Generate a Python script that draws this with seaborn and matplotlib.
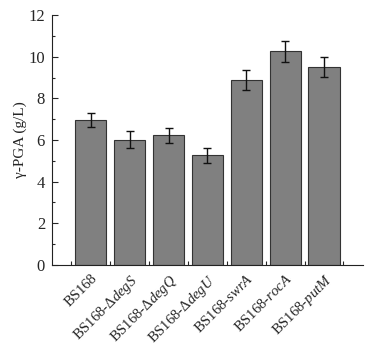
import matplotlib
matplotlib.use("Agg")
import matplotlib.pyplot as plt
import seaborn as sns
import pandas as pd
import numpy as np
from matplotlib.ticker import MultipleLocator, FixedLocator

strains = ["BS168", "BS168-ΔdegS", "BS168-ΔdegQ", "BS168-ΔdegU",
           "BS168-swrA", "BS168-rocA", "BS168-putM"]
tick_labels = [r"BS168", r"BS168-$\mathit{\Delta degS}$", r"BS168-$\mathit{\Delta degQ}$",
               r"BS168-$\mathit{\Delta degU}$", r"BS168-$\mathit{swrA}$",
               r"BS168-$\mathit{rocA}$", r"BS168-$\mathit{putM}$"]
values = [6.95, 6.02, 6.22, 5.26, 8.88, 10.25, 9.50]
errors = [0.34, 0.42, 0.37, 0.36, 0.47, 0.50, 0.48]

sns.set_style("ticks")
plt.rcParams["font.family"] = ["Liberation Serif", "DejaVu Serif"]
plt.rcParams["mathtext.fontset"] = "custom"
plt.rcParams["mathtext.rm"] = "Liberation Serif"
plt.rcParams["mathtext.it"] = "Liberation Serif:italic"

df = pd.DataFrame({"strain": strains, "value": values})

fig = plt.figure(figsize=(3.82, 3.5), dpi=100)
ax = fig.add_axes([0.136, 0.243, 0.814, 0.714])
sns.barplot(data=df, x="strain", y="value", color="#808080", saturation=1,
            width=0.8, edgecolor="#333333", linewidth=0.8, ax=ax, errorbar=None)
ax.errorbar(np.arange(len(values)), values, yerr=errors, fmt="none",
            ecolor="#111111", elinewidth=1.0, capsize=3, capthick=1.0)

ax.set_xlim(-1, 7)
ax.set_ylim(0, 12)
ax.yaxis.set_major_locator(MultipleLocator(2))
ax.yaxis.set_minor_locator(MultipleLocator(1))
ax.tick_params(axis="y", which="major", direction="in", length=4, width=0.8, labelsize=12, pad=5)
ax.tick_params(axis="y", which="minor", direction="in", length=2.5, width=0.8)
ax.set_xticks(np.arange(len(values)))
ax.set_xticklabels(tick_labels, rotation=45, ha="right", rotation_mode="anchor", fontsize=10.5)
ax.tick_params(axis="x", which="major", length=0, pad=5)
ax.xaxis.set_minor_locator(FixedLocator(np.arange(-0.5, 7, 1.0)))
ax.tick_params(axis="x", which="minor", direction="in", length=3, width=0.8)
ax.set_xlabel("")
ax.set_ylabel("γ-PGA (g/L)", fontsize=11, labelpad=1)
for s in ["top", "right"]:
    ax.spines[s].set_visible(False)
for s in ["left", "bottom"]:
    ax.spines[s].set_linewidth(0.8)
    ax.spines[s].set_color("#222222")

fig.savefig("out.png", dpi=100)
